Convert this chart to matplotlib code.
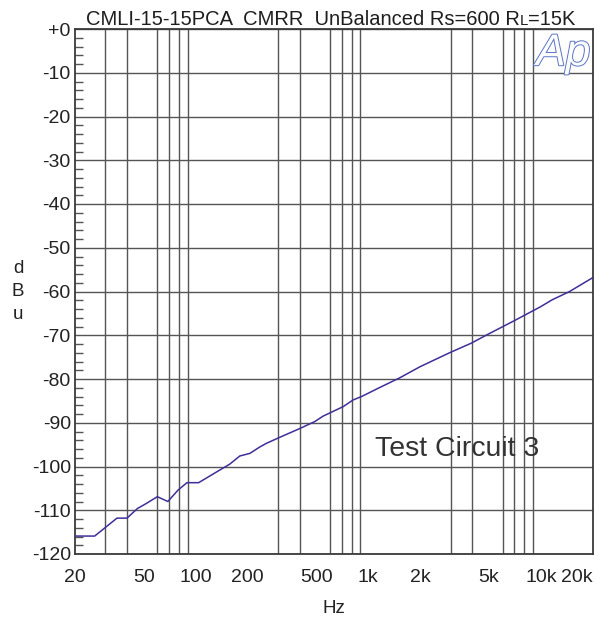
import matplotlib.pyplot as plt
import matplotlib.patheffects as pe
from matplotlib.ticker import FixedLocator, MultipleLocator, NullFormatter

# CMRR sweep, unbalanced source, read in dBu against frequency
freq_hz = [20, 26, 35, 40, 46, 51, 60, 69, 79, 89, 104, 138, 157, 180, 206,
           236, 257, 308, 402, 491, 546, 716, 815, 914, 1170, 1525, 1990,
           2955, 3950, 4860, 6980, 9920, 11600, 14640, 20000]
level_dbu = [-115.9, -115.9, -111.8, -111.8, -109.6, -108.6, -106.9, -108.0,
             -105.4, -103.7, -103.7, -100.8, -99.5, -97.6, -97.0, -95.5, -94.7,
             -93.3, -91.3, -89.7, -88.5, -86.3, -84.8, -84.0, -81.9, -79.7,
             -77.2, -74.0, -71.8, -69.9, -66.7, -63.5, -61.9, -60.0, -56.8]

grid_freqs = [30, 40, 50, 60, 70, 80, 90, 100, 200, 300, 400, 500, 600, 700,
              800, 900, 1000, 2000, 3000, 4000, 5000, 6000, 7000, 8000, 9000,
              10000]
label_freqs = [20, 50, 100, 200, 500, 1000, 2000, 5000, 10000, 20000]
label_text = ['20', '50', '100', '200', '500', '1k', '2k', '5k', '10k', '20k']
db_ticks = list(range(0, -130, -10))
db_text = ['+0'] + [str(v) for v in db_ticks[1:]]

W, H = 603, 624
plt.rcParams['font.family'] = ['Liberation Sans', 'DejaVu Sans']
fig = plt.figure(figsize=(W / 100, H / 100), dpi=100)
ax = fig.add_axes([75 / W, 1 - 554 / H, (593 - 75) / W, (554 - 29) / H])

ax.semilogx(freq_hz, level_dbu, color='#3d2f9a', lw=1.1, zorder=3)
ax.set_xlim(20, 20000)
ax.set_ylim(-120, 0)

# frequency grid on every 1-2-3..9 line, labels only at the usual points
ax.xaxis.set_minor_locator(FixedLocator(grid_freqs))
ax.xaxis.set_minor_formatter(NullFormatter())
ax.set_xticks(label_freqs)
ax.set_xticklabels(label_text)
ax.grid(True, which='minor', axis='x', color='#555555', lw=1.0)
ax.tick_params(axis='x', which='both', length=0, pad=11, labelsize=14,
               labelcolor='#222222')
xl = ax.get_xticklabels()
xl[-1].set_horizontalalignment('right')

ax.set_yticks(db_ticks)
ax.set_yticklabels(db_text)
ax.yaxis.set_minor_locator(MultipleLocator(2))
ax.grid(True, which='major', axis='y', color='#555555', lw=1.0)
ax.tick_params(axis='y', which='major', length=0, pad=3, labelsize=14,
               labelcolor='#222222')
ax.tick_params(axis='y', which='minor', direction='in', length=6,
               width=1.0, color='#555555')

for s in ax.spines.values():
    s.set_color('#3a3a3a')
    s.set_linewidth(1.3)

ax.set_xlabel('Hz', fontsize=13.5, color='#222222')
ax.xaxis.set_label_coords(0.5, -0.088)
ax.set_ylabel('d\nB\nu', fontsize=13.5, color='#222222', rotation=0,
              linespacing=1.45, va='center', ha='center')
ax.yaxis.set_label_coords((18 - 75) / 518, 0.5)

ax.text((375 - 75) / 518, 0.186, 'Test Circuit 3', transform=ax.transAxes,
        fontsize=20.5, color='#333333', va='baseline')

# outlined Ap mark in the corner
ax.text(0.995, 0.992, 'Ap', transform=ax.transAxes, ha='right', va='top',
        fontsize=32, style='italic', color='white', zorder=5,
        path_effects=[pe.Stroke(linewidth=1.4, foreground='#5a74c4'),
                      pe.Normal()])

# title, with the small L in RL
title_kw = dict(color='#1e1e1e', va='baseline')
r = fig.canvas.get_renderer()
ty = 1 - 25 / H
t1 = fig.text(86 / W, ty, 'CMLI-15-15PCA  CMRR  UnBalanced Rs=600 R',
              fontsize=14.5, **title_kw)
bb = t1.get_window_extent(r)
t2 = fig.text(bb.x1 / W, ty, 'L', fontsize=10.8, **title_kw)
bb = t2.get_window_extent(r)
fig.text(bb.x1 / W, ty, '=15K', fontsize=14.5, **title_kw)

fig.savefig('out.png', dpi=100)
